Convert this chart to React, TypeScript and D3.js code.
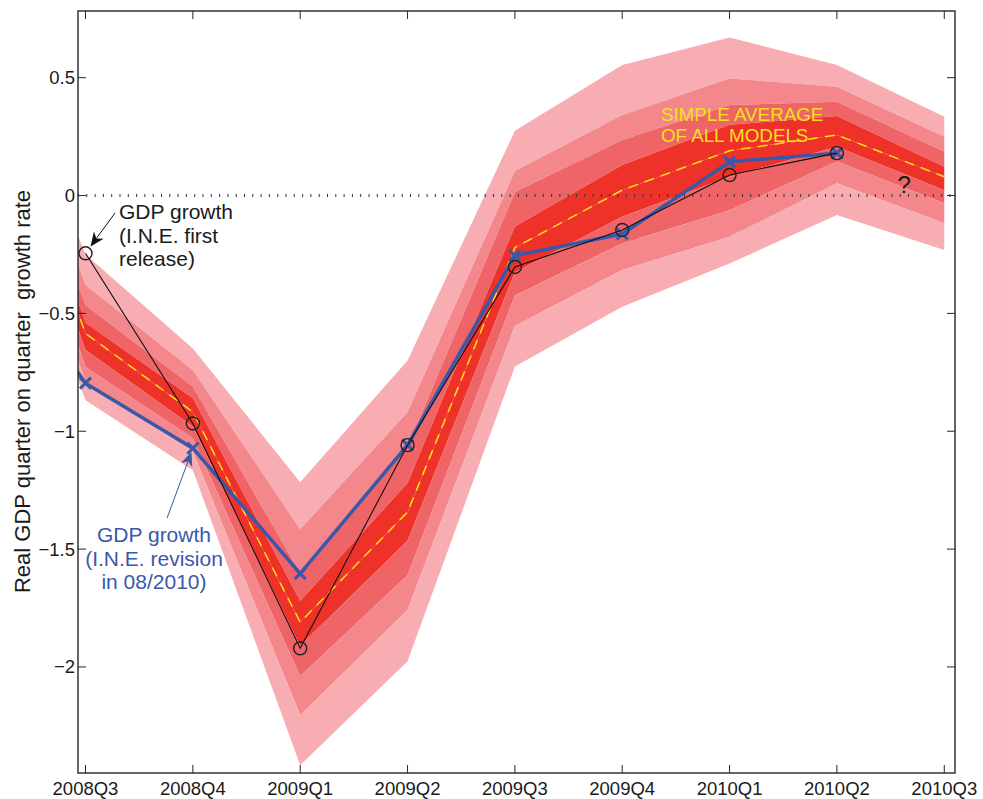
import React from "react";
import * as d3 from "d3";

// Quarters (first one only partly visible, clipped by the axes)
const QUARTERS = ["2008Q2", "2008Q3", "2008Q4", "2009Q1", "2009Q2", "2009Q3", "2009Q4", "2010Q1", "2010Q2", "2010Q3"];
const TICK_QUARTERS = ["2008Q3", "2008Q4", "2009Q1", "2009Q2", "2009Q3", "2009Q4", "2010Q1", "2010Q2", "2010Q3"];
const Y_TICKS = [0.5, 0, -0.5, -1, -1.5, -2];

// Fan chart bounds (outer -> inner), per quarter of QUARTERS
const FAN_UPPER_4 = [0.9, -0.25, -0.649, -1.216, -0.7, 0.275, 0.554, 0.671, 0.554, 0.334];
const FAN_UPPER_3 = [0.85, -0.38, -0.741, -1.416, -0.919, 0.104, 0.342, 0.497, 0.462, 0.25];
const FAN_UPPER_2 = [0.8, -0.465, -0.81, -1.603, -1.066, 0.015, 0.236, 0.384, 0.398, 0.186];
const FAN_UPPER_1 = [0.75, -0.54, -0.86, -1.72, -1.22, -0.131, 0.13, 0.3, 0.337, 0.122];
const FAN_MEDIAN = [0.7, -0.585, -0.918, -1.81, -1.343, -0.221, 0.023, 0.19, 0.257, 0.08];
const FAN_LOWER_1 = [0.65, -0.655, -0.98, -1.91, -1.465, -0.325, -0.09, 0.08, 0.207, 0.023];
const FAN_LOWER_2 = [0.6, -0.727, -1.03, -2.04, -1.611, -0.424, -0.203, -0.062, 0.144, -0.033];
const FAN_LOWER_3 = [0.5, -0.79, -1.087, -2.205, -1.758, -0.554, -0.316, -0.175, 0.052, -0.118];
const FAN_LOWER_4 = [0.35, -0.868, -1.165, -2.417, -1.976, -0.725, -0.472, -0.288, -0.083, -0.231];

// GDP growth, I.N.E. first release
const FIRST_RELEASE_Q = ["2008Q3", "2008Q4", "2009Q1", "2009Q2", "2009Q3", "2009Q4", "2010Q1", "2010Q2"];
const FIRST_RELEASE = [-0.245, -0.967, -1.921, -1.059, -0.303, -0.146, 0.087, 0.18];

// GDP growth, I.N.E. revision 08/2010
const REVISION_Q = ["2008Q2", "2008Q3", "2008Q4", "2009Q1", "2009Q2", "2009Q3", "2009Q4", "2010Q1", "2010Q2"];
const REVISION = [-0.14, -0.796, -1.072, -1.604, -1.059, -0.255, -0.163, 0.143, 0.18];

const BAND_COLORS = ["#f7adb1", "#f3878b", "#ef6467", "#ee3229", "#ee3229", "#ef6467", "#f3878b", "#f7adb1"];

const FONT = "'Liberation Sans', Arial, Helvetica, sans-serif";
const W = 983;
const H = 799;
const L = 78, R = 955, T = 11, B = 773;

const qi = (q: string) => QUARTERS.indexOf(q);

function Arrow({ x1, y1, x2, y2, color }: { x1: number; y1: number; x2: number; y2: number; color: string }) {
  const dx = x2 - x1, dy = y2 - y1;
  const len = Math.hypot(dx, dy);
  const ux = dx / len, uy = dy / len;
  const nx = -uy, ny = ux;
  const hl = 14, hw = 6;
  const bx = x2 - ux * hl, by = y2 - uy * hl;
  const mx = x2 - ux * hl * 0.7, my = y2 - uy * hl * 0.7;
  const pts = [
    [x2, y2],
    [bx + nx * hw, by + ny * hw],
    [mx, my],
    [bx - nx * hw, by - ny * hw],
  ];
  return (
    <g>
      <line x1={x1} y1={y1} x2={mx} y2={my} stroke={color} strokeWidth={1} />
      <polygon points={pts.map((p) => p.join(",")).join(" ")} fill={color} />
    </g>
  );
}

export default function App() {
  const x = d3.scaleLinear().domain([0.93, 9.1]).range([L, R]);
  const y = d3.scaleLinear().domain([-2.45, 0.783]).range([B, T]);

  const bounds = [FAN_UPPER_4, FAN_UPPER_3, FAN_UPPER_2, FAN_UPPER_1, FAN_MEDIAN, FAN_LOWER_1, FAN_LOWER_2, FAN_LOWER_3, FAN_LOWER_4];
  const idx = QUARTERS.map((_, i) => i);

  const bands = BAND_COLORS.map((c, k) => {
    const area = d3
      .area<number>()
      .x((i) => x(i))
      .y0((i) => y(bounds[k + 1][i]))
      .y1((i) => y(bounds[k][i]));
    return <path key={k} d={area(idx) || ""} fill={c} stroke="none" />;
  });

  const medLine = d3
    .line<number>()
    .x((i) => x(i))
    .y((i) => y(FAN_MEDIAN[i]))(idx) || "";

  const firstPts = FIRST_RELEASE_Q.map((q, i) => [x(qi(q)), y(FIRST_RELEASE[i])] as [number, number]);
  const revPts = REVISION_Q.map((q, i) => [x(qi(q)), y(REVISION[i])] as [number, number]);
  const lineGen = d3.line();

  // annotation anchors
  const blk = firstPts[0];
  const bt = [x(1.275), y(-0.074)];
  const bd = Math.hypot(blk[0] - bt[0], blk[1] - bt[1]);
  const bEnd = [blk[0] + ((bt[0] - blk[0]) / bd) * 8.5, blk[1] + ((bt[1] - blk[1]) / bd) * 8.5];

  const blu = revPts[2];
  const ut = [x(1.76), y(-1.368)];
  const ud = Math.hypot(blu[0] - ut[0], blu[1] - ut[1]);
  const uEnd = [blu[0] + ((ut[0] - blu[0]) / ud) * 4, blu[1] + ((ut[1] - blu[1]) / ud) * 4];

  const axisColor = "#262626";
  const tickLen = 8;
  const blue = "#3a58aa";
  const lh = 23.5;

  return (
    <svg
      width={W}
      height={H}
      style={{ position: "absolute", left: 0, top: 0, display: "block", background: "#fff" }}
      fontFamily={FONT}
    >
      <defs>
        <clipPath id="plot">
          <rect x={L} y={T} width={R - L} height={B - T} />
        </clipPath>
      </defs>
      <rect x={0} y={0} width={W} height={H} fill="#fff" />
      <g clipPath="url(#plot)">
        {bands}
        <line x1={L} x2={R} y1={y(0)} y2={y(0)} stroke="#333" strokeWidth={3} strokeDasharray="1 7.3" />
        <path d={medLine} fill="none" stroke="#ffde17" strokeWidth={1.5} strokeDasharray="10 7" />
        <path d={lineGen(revPts) || ""} fill="none" stroke={blue} strokeWidth={3.5} strokeLinejoin="round" />
        {revPts.map((p, i) => (
          <g key={i} stroke={blue} strokeWidth={3}>
            <line x1={p[0] - 5.5} y1={p[1] - 5.5} x2={p[0] + 5.5} y2={p[1] + 5.5} />
            <line x1={p[0] - 5.5} y1={p[1] + 5.5} x2={p[0] + 5.5} y2={p[1] - 5.5} />
          </g>
        ))}
        <path d={lineGen(firstPts) || ""} fill="none" stroke="#111" strokeWidth={1.1} />
        {firstPts.map((p, i) => (
          <circle key={i} cx={p[0]} cy={p[1]} r={6.5} fill="none" stroke="#222" strokeWidth={1.4} />
        ))}
      </g>

      {/* axes box */}
      <rect x={L} y={T} width={R - L} height={B - T} fill="none" stroke={axisColor} strokeWidth={1.4} />
      {TICK_QUARTERS.map((q) => {
        const px = x(qi(q));
        return (
          <g key={q}>
            <line x1={px} x2={px} y1={B} y2={B - tickLen} stroke={axisColor} strokeWidth={1} />
            <line x1={px} x2={px} y1={T} y2={T + tickLen} stroke={axisColor} strokeWidth={1} />
            <text x={px} y={795} textAnchor="middle" fontSize={18.5} fill="#1a1a1a">
              {q}
            </text>
          </g>
        );
      })}
      {Y_TICKS.map((v) => {
        const py = y(v);
        return (
          <g key={v}>
            <line x1={L} x2={L + tickLen} y1={py} y2={py} stroke={axisColor} strokeWidth={1} />
            <line x1={R} x2={R - tickLen} y1={py} y2={py} stroke={axisColor} strokeWidth={1} />
            <text x={75} y={py} dy="0.35em" textAnchor="end" fontSize={18.5} fill="#1a1a1a">
              {v < 0 ? "\u2212" + String(-v) : String(v)}
            </text>
          </g>
        );
      })}

      {/* y label */}
      <text
        transform={`translate(30, 391.5) rotate(-90)`}
        textAnchor="middle"
        fontSize={22}
        fill="#1a1a1a"
        style={{ whiteSpace: "pre" }}
      >
        {"Real GDP quarter on quarter  growth rate"}
      </text>

      {/* annotations */}
      <Arrow x1={bt[0]} y1={bt[1]} x2={bEnd[0]} y2={bEnd[1]} color="#111" />
      <text x={x(1.312)} y={y(-0.1)} fontSize={21} fill="#1a1a1a">
        <tspan x={x(1.312)} dy={0}>GDP growth</tspan>
        <tspan x={x(1.312)} dy={lh}>(I.N.E. first</tspan>
        <tspan x={x(1.312)} dy={lh}>release)</tspan>
      </text>

      <Arrow x1={ut[0]} y1={ut[1]} x2={uEnd[0]} y2={uEnd[1]} color={blue} />
      <text x={x(1.638)} y={y(-1.472)} fontSize={21} fill={blue} textAnchor="middle">
        <tspan x={x(1.638)} dy={0}>GDP growth</tspan>
        <tspan x={x(1.638)} dy={lh}>(I.N.E. revision</tspan>
        <tspan x={x(1.638)} dy={lh}>in 08/2010)</tspan>
      </text>

      <text x={x(6.36)} y={y(0.317)} fontSize={18.8} fill="#f5e11c">
        <tspan x={x(6.36)} dy={0}>SIMPLE AVERAGE</tspan>
        <tspan x={x(6.36)} dy={21.5}>OF ALL MODELS</tspan>
      </text>

      <text x={x(8.565)} y={y(0.011)} fontSize={24} fill="#1a1a1a">
        ?
      </text>
    </svg>
  );
}
